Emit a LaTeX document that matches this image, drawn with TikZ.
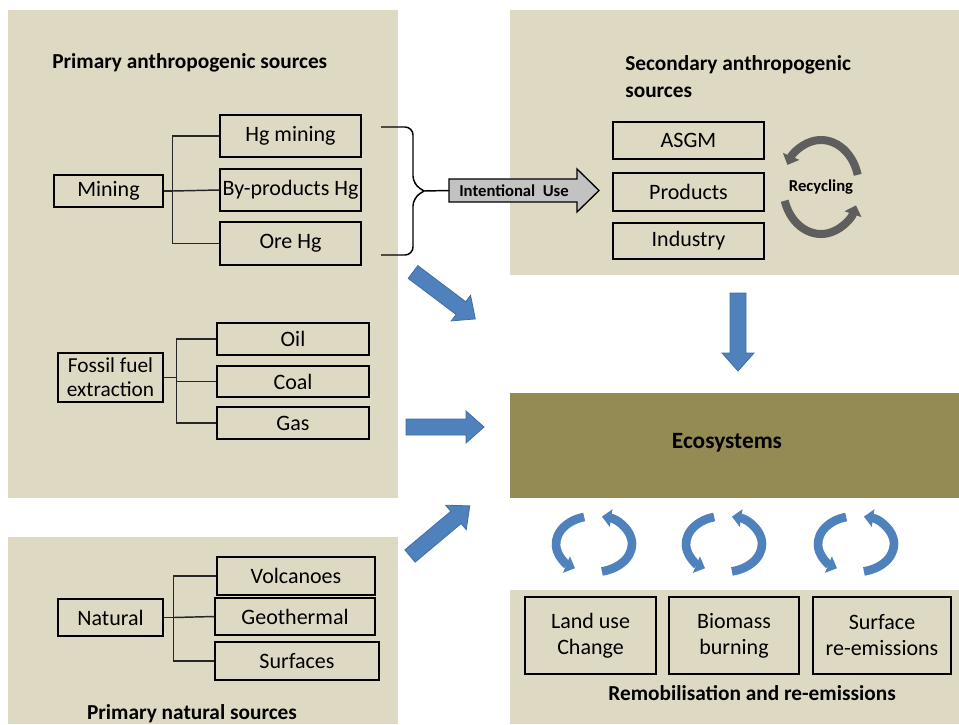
\documentclass[tikz,border=0pt]{standalone}
\usepackage{fontspec}
\setmainfont{Carlito}
\usetikzlibrary{arrows.meta,calc}
\definecolor{panel}{HTML}{DDD9C3}
\definecolor{eco}{HTML}{948A54}
\definecolor{ablue}{HTML}{4F81BD}
\definecolor{ablueedge}{HTML}{3F6EA6}
\definecolor{recgrey}{HTML}{5E5E5E}
\definecolor{intgrey}{HTML}{C2C2C2}
\tikzset{
  wh/.style 2 args={minimum width=#1*0.75pt, minimum height=#2*0.75pt},
  box/.style={draw=black, line width=1.1pt, inner sep=0pt, align=center, font=\fontsize{16.5}{19.5}\selectfont},
  title/.style={font=\fontsize{16}{20}\selectfont\bfseries, inner sep=0pt},
  tree/.style={draw=black!85, line width=1.1pt},
  panelbg/.style={fill=panel, draw=none},
  fatarrow/.pic={\draw[fill=ablue, draw=ablueedge, line width=0.6pt] (0,-8) -- (60,-8) -- (60,-16) -- (78,0) -- (60,16) -- (60,8) -- (0,8) -- cycle;},
  cycarrow/.style={draw=ablue, line width=6.5pt, -{Triangle[width=13pt,length=7pt]}},
  recarrow/.style={draw=recgrey, line width=6pt, -{Triangle[width=13pt,length=7pt]}}
}
\begin{document}
\begin{tikzpicture}[x=0.75pt,y=-0.75pt]
\useasboundingbox (0,0) rectangle (959,724);
% panels
\fill[panelbg] (8,10) rectangle (398,498);
\fill[panelbg] (8,537) rectangle (398,724);
\fill[panelbg] (510,10) rectangle (959,275);
\fill[fill=eco] (510,393) rectangle (959,498);
\fill[panelbg] (510,590) rectangle (959,724);

% titles
\node[title, anchor=west] (t1) at (52,63) {Primary anthropogenic sources};
\node[title, anchor=west, align=left, font=\fontsize{16}{20.3}\selectfont\bfseries] (t2) at (625,76.5) {Secondary anthropogenic\\sources};
\node[title] (t3) at (192,714) {Primary natural sources};
\node[title, font=\fontsize{17.5}{20}\selectfont\bfseries] (eco) at (727,443) {Ecosystems};
\node[title] (t4) at (752,693) {Remobilisation and re-emissions};

% mining tree
\node[box, wh={109}{32}] (mining) at (108.5,191) {Mining};
\node[box, wh={141}{42}] (hgm) at (290.5,136) {Hg mining};
\node[box, wh={141}{42}] (byp) at (290.5,190) {By-products Hg};
\node[box, wh={141}{43}] (ore) at (290.5,243.5) {Ore Hg};
\draw[tree] (mining.east) -- ++(9,0) coordinate (mj);
\draw[tree] (mj) |- (hgm.west);
\draw[tree] (mj) -- (byp.west);
\draw[tree] (mj) |- (ore.west);

% fossil tree
\node[box, wh={105}{49}, font=\fontsize{16}{18}\selectfont] (fossil) at (110.5,377.5) {Fossil fuel\\extraction};
\node[box, wh={152}{32}] (oil) at (293,339) {Oil};
\node[box, wh={152}{31}] (coal) at (293,381.5) {Coal};
\node[box, wh={152}{32}] (gas) at (293,423) {Gas};
\draw[tree] (fossil.east) -- ++(13,0) coordinate (fj);
\draw[tree] (fj) |- (oil.west);
\draw[tree] (fj) |- (coal.west);
\draw[tree] (fj) |- (gas.west);

% natural tree
\node[box, wh={105}{37}] (natural) at (110.5,617.5) {Natural};
\node[box, wh={158}{38}] (volc) at (296,576) {Volcanoes};
\node[box, wh={160}{37}] (geo) at (295,616.5) {Geothermal};
\node[box, wh={164}{38}] (surf) at (297,661) {Surfaces};
\draw[tree] (natural.east) -- ++(10,0) coordinate (nj);
\draw[tree] (nj) |- (volc.west);
\draw[tree] (nj) -- (geo.west);
\draw[tree] (nj) |- (surf.west);

% brace and intentional use arrow
\coordinate (btop) at (381,127);
\coordinate (bbot) at (381,255);
\coordinate (btip) at (424,191);
\draw[black, line width=1.1pt, rounded corners=6pt] (btop) -- (413,127) -- (413,184) -- (btip);
\draw[black, line width=1.1pt, rounded corners=6pt] (bbot) -- (413,255) -- (413,198) -- (btip);
\draw[fill=intgrey, draw=black, line width=1pt] (449,179) -- (577,179) -- (577,169) -- (599,190.5) -- (577,212) -- (577,202) -- (449,202) -- cycle;
\node[font=\fontsize{12.5}{14}\selectfont\bfseries, inner sep=0pt] (intent) at (514,190.5) {Intentional\ \ Use};
\draw[black, line width=1.1pt] (btip) -- (449,190.5);

% secondary boxes
\node[box, wh={151}{37}] (asgm) at (688.5,140.5) {ASGM};
\node[box, wh={151}{38}] (prod) at (688.5,192) {Products};
\node[box, wh={151}{36}] (ind) at (688.5,241) {Industry};

% recycling
\coordinate (rc) at (821,187);
\draw[recarrow] ($(rc)+(-15:38 and 47)$) arc[start angle=-15, end angle=-152, x radius=38, y radius=47];
\draw[recarrow] ($(rc)+(-197:38 and 47)$) arc[start angle=-197, end angle=-337, x radius=38, y radius=47];
\node[font=\fontsize{12.5}{14}\selectfont\bfseries, inner sep=0pt] (rec) at (821,187) {Recycling};

% blue arrows
\pic[rotate=-37] at (413,272) {fatarrow};
\pic at (406,427) {fatarrow};
\pic[rotate=40] at (410,556) {fatarrow};
\pic[rotate=-90] at (738,293) {fatarrow};

% cycle arrows
\foreach \cx/\nm in {594/c1, 724/c2, 856/c3} {
  \coordinate (\nm) at (\cx,544);
  \draw[cycarrow] ($(\nm)+(-105:38 and 28)$) arc[start angle=-105, end angle=-240, x radius=38, y radius=28];
  \draw[cycarrow] ($(\nm)+(-282:38 and 28)$) arc[start angle=-282, end angle=-438, x radius=38, y radius=28];
}

% remobilisation boxes
\node[box, wh={131}{77}] (land) at (590.5,635.5) {Land use\\Change};
\node[box, wh={130}{77}] (bio) at (734,635.5) {Biomass\\burning};
\node[box, wh={138}{77}] (surfre) at (882,635.5) {Surface\\re-emissions};
\end{tikzpicture}
\end{document}
